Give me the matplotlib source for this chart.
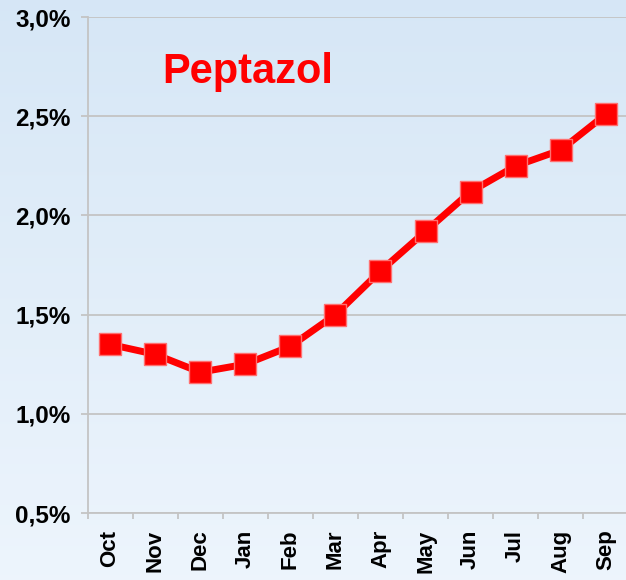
import numpy as np
import matplotlib
matplotlib.use('Agg')
import matplotlib.pyplot as plt
from matplotlib.ticker import FuncFormatter

plt.rcParams['font.family'] = ['Liberation Sans', 'DejaVu Sans']

months = ['Oct', 'Nov', 'Dec', 'Jan', 'Feb', 'Mar', 'Apr', 'May', 'Jun', 'Jul', 'Aug', 'Sep']
share = [1.35, 1.30, 1.21, 1.25, 1.34, 1.50, 1.72, 1.92, 2.12, 2.25, 2.33, 2.51]
y_ticks = [0.5, 1.0, 1.5, 2.0, 2.5, 3.0]

fig = plt.figure(figsize=(6.26, 5.8), dpi=100)

# background gradient
bg = fig.add_axes([0, 0, 1, 1], zorder=-1)
grad = np.linspace(0, 1, 256).reshape(-1, 1)
top = np.array([0.84, 0.905, 0.965])
bot = np.array([0.93, 0.96, 0.99])
img = top + (bot - top) * grad[:, :, None]
bg.imshow(img, aspect='auto', extent=[0, 1, 0, 1])
bg.axis('off')

ax = fig.add_axes([0.1398, 0.1155, 0.864, 0.855])
ax.set_facecolor('none')
x = np.arange(len(months))
ax.plot(x, share, color='#ff0000', lw=5, marker='s', markersize=16.5,
        markerfacecolor='#ff0000', markeredgecolor='#ff7070', markeredgewidth=1.0,
        solid_joinstyle='round', zorder=3, clip_on=False)

ax.set_xlim(-0.5, len(months) - 0.5)
ax.set_ylim(0.5, 3.0)
ax.set_yticks(y_ticks)
ax.yaxis.set_major_formatter(FuncFormatter(lambda v, p: f'{v:.1f}%'.replace('.', ',')))
ax.grid(axis='y', color='#c4c4c4', lw=1.3)
ax.set_axisbelow(True)

for s in ['top', 'right']:
    ax.spines[s].set_visible(False)
for s in ['left', 'bottom']:
    ax.spines[s].set_color('#c4c4c4')
    ax.spines[s].set_linewidth(1.3)

ax.set_xticks(x)
ax.set_xticklabels(months, rotation=90, fontsize=16, fontweight='bold')
ax.set_xticks(np.arange(-0.5, len(months), 1), minor=True)
ax.tick_params(axis='x', which='major', length=0, pad=12)
ax.tick_params(axis='x', which='minor', length=4, color='#c4c4c4', width=1.3)
ax.tick_params(axis='y', length=5, color='#c4c4c4', width=1.3, pad=7)
for lbl in ax.get_yticklabels():
    lbl.set_fontsize(17.5)
    lbl.set_fontweight('bold')

ax.text(0.297, 0.867, 'Peptazol', transform=ax.transAxes, color='#ff0000',
        fontsize=30, fontweight='bold', ha='center', va='baseline')

fig.savefig('out.png', dpi=100)
